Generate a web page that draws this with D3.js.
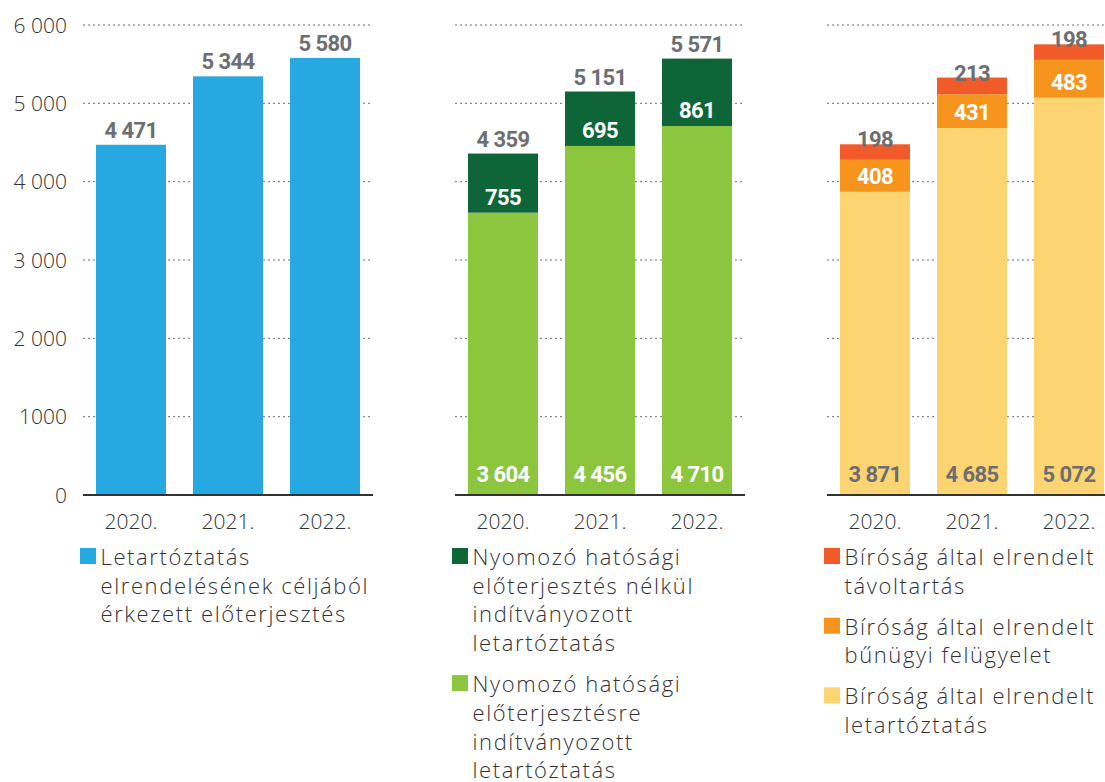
<!DOCTYPE html>
<html>
<head>
<meta charset="utf-8">
<script src="https://cdn.jsdelivr.net/npm/d3@7"></script>
<style>
    body { margin: 0; background: #fff; }
    svg { display: block; }
    .tick-label, .year-label, .legend-text {
        font-family: "Open Sans", sans-serif;
        font-weight: 300;
        fill: #333;
    }
    .tick-label, .year-label { font-size: 21px; }
    .legend-text { font-size: 22px; letter-spacing: 1.6px; }
    .val {
        font-family: Roboto, "Liberation Sans", sans-serif;
        font-weight: bold;
        font-size: 22px;
        letter-spacing: -0.6px;
        text-anchor: middle;
    }
</style>
</head>
<body>
<svg id="chart" width="1105" height="782"></svg>
<script>
// adatok
const years = ["2020.", "2021.", "2022."];
const tickValues = [0, 1000, 2000, 3000, 4000, 5000, 6000];
const tickLabels = ["0", "1000", "2 000", "3 000", "4 000", "5 000", "6 000"];

const eloterjesztes = [4471, 5344, 5580];
const nelkul = [755, 695, 861];
const eloterjesztesre = [3604, 4456, 4710];
const tavoltartas = [198, 213, 198];
const felugyelet = [408, 431, 483];
const letartoztatas = [3871, 4685, 5072];

const legend1 = [
    {color: "#25a9e0", lines: ["Letartóztatás", "elrendelésének céljából", "érkezett előterjesztés"]}
];
const legend2 = [
    {color: "#0e6638", lines: ["Nyomozó hatósági", "előterjesztés nélkül", "indítványozott", "letartóztatás"]},
    {color: "#8cc63f", lines: ["Nyomozó hatósági", "előterjesztésre", "indítványozott", "letartóztatás"]}
];
const legend3 = [
    {color: "#f15a29", lines: ["Bíróság által elrendelt", "távoltartás"]},
    {color: "#f7941d", lines: ["Bíróság által elrendelt", "bűnügyi felügyelet"]},
    {color: "#fdd472", lines: ["Bíróság által elrendelt", "letartóztatás"]}
];

const svg = d3.select("#chart");
const fmt = d3.formatLocale({decimal: ",", thousands: " ", grouping: [3], currency: ["", ""]}).format(",d");
const gray = "#6d6e71";

const y = d3.scaleLinear().domain([0, 6000]).range([495, 25]);
const panelW = 290;

function panel(x0, rows, keys, colors, labelStyle, legend) {
    let g = svg.append("g").attr("transform", `translate(${x0},0)`);
    let x = d3.scaleBand().domain(years).range([0, panelW])
        .paddingInner(27 / 97).paddingOuter(13 / 97);

    // rácsvonalak
    g.selectAll(".grid").data(tickValues.filter(t => t > 0)).enter()
        .append("line")
        .attr("x1", 0).attr("x2", panelW)
        .attr("y1", d => y(d)).attr("y2", d => y(d))
        .attr("stroke", "#6f6f6f").attr("stroke-width", 1)
        .attr("stroke-dasharray", "2,3");

    let series = d3.stack().keys(keys)(rows);
    series.forEach((s, i) => {
        g.selectAll(".bar" + i).data(s).enter()
            .append("rect")
            .attr("x", d => x(d.data.year))
            .attr("width", x.bandwidth())
            .attr("y", d => y(d[1]))
            .attr("height", d => y(d[0]) - y(d[1]))
            .attr("fill", colors[i]);
    });

    // címkék
    series.forEach((s, i) => {
        let st = labelStyle[i];
        g.selectAll(".lab" + i).data(s).enter()
            .append("text")
            .attr("class", "val")
            .attr("x", d => x(d.data.year) + x.bandwidth() / 2)
            .attr("y", d => st.pos === "bottom" ? y(d[0]) - 13
                : st.pos === "segment" ? y(d[0]) - 8
                : st.pos === "above" ? y(d[1]) - 7
                : y(d[1]) + 3)
            .attr("fill", st.color)
            .text(d => fmt(d[1] - d[0]));
    });
    if (keys.length > 1 && labelStyle.total) {
        g.selectAll(".total").data(rows).enter()
            .append("text")
            .attr("class", "val")
            .attr("x", d => x(d.year) + x.bandwidth() / 2)
            .attr("y", d => y(d3.sum(keys, k => d[k])) - 7)
            .attr("fill", gray)
            .text(d => fmt(d3.sum(keys, k => d[k])));
    }

    // alapvonal
    g.append("line")
        .attr("x1", 0).attr("x2", panelW)
        .attr("y1", y(0)).attr("y2", y(0))
        .attr("stroke", "#333").attr("stroke-width", 2);

    g.selectAll(".year").data(years).enter()
        .append("text")
        .attr("class", "year-label")
        .attr("x", d => x(d) + x.bandwidth() / 2)
        .attr("y", 529)
        .attr("text-anchor", "middle")
        .text(d => d);

    // jelmagyarázat
    let ly = 565;
    legend.forEach(item => {
        g.append("rect")
            .attr("x", -3).attr("y", ly - 17)
            .attr("width", 16).attr("height", 16)
            .attr("fill", item.color);
        let t = g.append("text").attr("class", "legend-text").attr("x", 17.5).attr("y", ly);
        item.lines.forEach((l, j) => {
            t.append("tspan").attr("x", 17.5).attr("y", ly + j * 28.7).text(l);
        });
        ly += (item.lines.length - 1) * 28.7 + 41;
    });
}

// 1. panel
let rows1 = years.map((yr, i) => ({year: yr, a: eloterjesztes[i]}));
panel(83, rows1, ["a"], ["#25a9e0"], [{pos: "above", color: gray}], legend1);

// 2. panel
let rows2 = years.map((yr, i) => ({year: yr, a: eloterjesztesre[i], b: nelkul[i]}));
let ls2 = [{pos: "bottom", color: "#fff"}, {pos: "segment", color: "#fff"}];
ls2.total = true;
panel(455, rows2, ["a", "b"], ["#8cc63f", "#0e6638"], ls2, legend2);

// 3. panel
let rows3 = years.map((yr, i) => ({year: yr, a: letartoztatas[i], b: felugyelet[i], c: tavoltartas[i]}));
panel(827, rows3, ["a", "b", "c"], ["#fdd472", "#f7941d", "#f15a29"],
    [{pos: "bottom", color: gray}, {pos: "segment", color: "#fff"}, {pos: "top", color: gray}], legend3);

// y tengely feliratok
svg.append("g").selectAll("text").data(tickValues).enter()
    .append("text")
    .attr("class", "tick-label")
    .attr("x", 67)
    .attr("y", d => y(d))
    .attr("dy", "0.36em")
    .attr("text-anchor", "end")
    .text((d, i) => tickLabels[i]);
</script>
</body>
</html>
